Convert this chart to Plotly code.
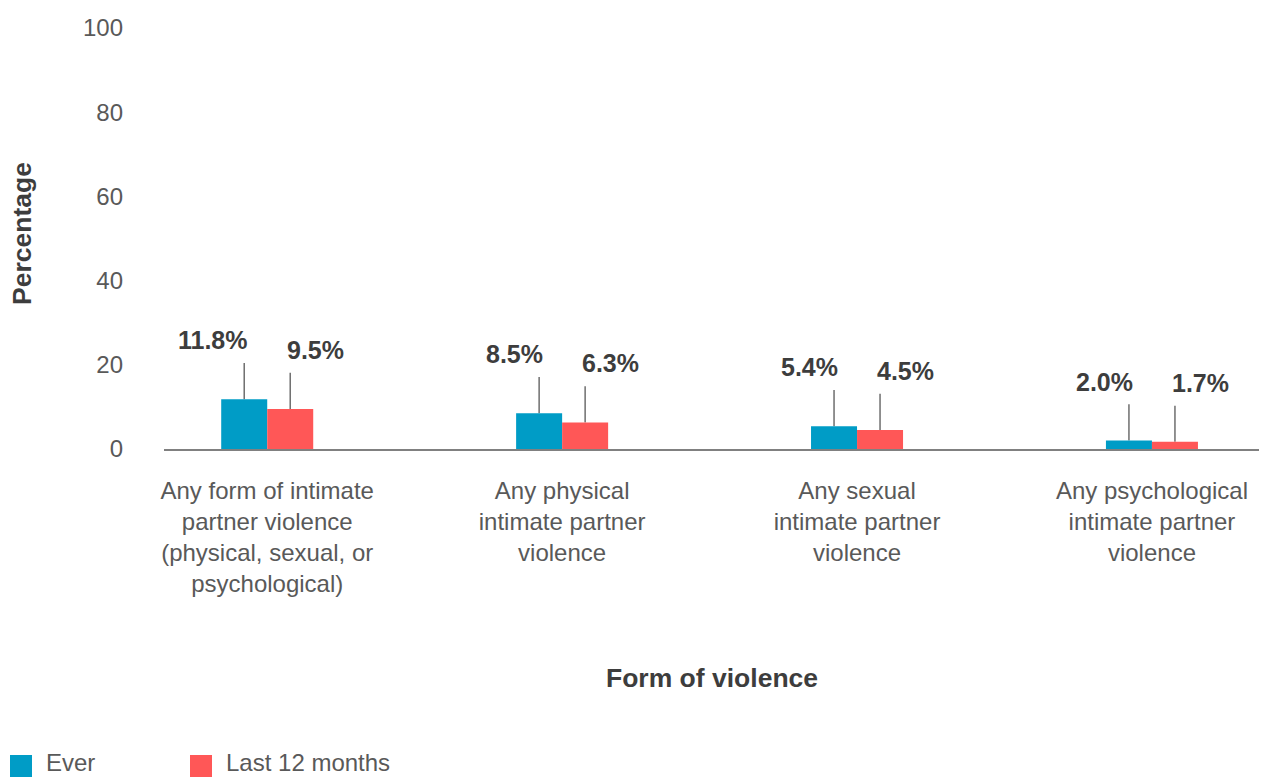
import plotly.graph_objects as go

# Data
categories = [
    "Any form of intimate partner violence (physical, sexual, or psychological)",
    "Any physical intimate partner violence",
    "Any sexual intimate partner violence",
    "Any psychological intimate partner violence",
]
tick_labels = [
    "Any form of intimate<br>partner violence<br>(physical, sexual, or<br>psychological)",
    "Any physical<br>intimate partner<br>violence",
    "Any sexual<br>intimate partner<br>violence",
    "Any psychological<br>intimate partner<br>violence",
]
ever = [11.8, 8.5, 5.4, 2.0]
last_12_months = [9.5, 6.3, 4.5, 1.7]
series_names = ["Ever", "Last 12 months"]
y_ticks = [0, 20, 40, 60, 80, 100]

# Style
FONT = "Liberation Sans, Arial, Helvetica, sans-serif"
TEAL = "#009cc6"
CORAL = "#ff5757"
TICK_GREY = "#595959"
DARK = "#3d3d3d"

W, H = 1262, 777
M_L, M_R, M_T, M_B = 164, 3, 28, 328
PLOT_W = W - M_L - M_R
PLOT_H = H - M_T - M_B

BARGAP = 0.688
HALF_OFFSET = (1 - BARGAP) / 4  # centre offset of each bar in a pair


def paper_x(px):
    return (px - M_L) / PLOT_W


def paper_y(py):
    return (H - M_B - py) / PLOT_H


fig = go.Figure()
fig.add_trace(go.Bar(x=categories, y=ever, name=series_names[0],
                     marker=dict(color=TEAL, line=dict(width=0)),
                     showlegend=False))
fig.add_trace(go.Bar(x=categories, y=last_12_months, name=series_names[1],
                     marker=dict(color=CORAL, line=dict(width=0)),
                     showlegend=False))

shapes = []
annotations = []
LEADER = 8.6  # leader line length in data units

for i, cat in enumerate(categories):
    for val, sign, anchor, shift in ((ever[i], -1, "right", -17),
                                     (last_12_months[i], 1, "left", 18)):
        xpos = i + sign * HALF_OFFSET
        shapes.append(dict(type="line", xref="x", yref="y",
                           x0=xpos, x1=xpos, y0=val, y1=val + LEADER,
                           line=dict(color="#6e6e6e", width=1.5),
                           layer="below"))
        annotations.append(dict(x=cat, y=val, xref="x", yref="y",
                                text=f"<b>{val:.1f}%</b>", showarrow=False,
                                xanchor=anchor, yanchor="middle",
                                xshift=shift, yshift=59,
                                font=dict(family=FONT, size=25, color=DARK)))

# Axis titles
annotations.append(dict(text="<b>Form of violence</b>", xref="paper", yref="paper",
                        x=0.5, y=paper_y(678), xanchor="center", yanchor="middle",
                        showarrow=False,
                        font=dict(family=FONT, size=26.5, color=DARK)))
annotations.append(dict(text="<b>Percentage</b>", xref="paper", yref="paper",
                        x=paper_x(22), y=paper_y(234), xanchor="center",
                        yanchor="middle", textangle=-90, showarrow=False,
                        font=dict(family=FONT, size=26.5, color=DARK)))

# Legend keys
legend_items = [(series_names[0], TEAL, 10), (series_names[1], CORAL, 190)]
for name, color, left in legend_items:
    shapes.append(dict(type="rect", xref="paper", yref="paper",
                       x0=paper_x(left), x1=paper_x(left + 22),
                       y0=paper_y(777), y1=paper_y(755),
                       fillcolor=color, line=dict(width=0)))
    annotations.append(dict(text=name, xref="paper", yref="paper",
                            x=paper_x(left + 34), y=paper_y(762),
                            xanchor="left", yanchor="middle", showarrow=False,
                            font=dict(family=FONT, size=24, color=TICK_GREY)))

fig.update_layout(
    width=W, height=H, autosize=False,
    margin=dict(l=M_L, r=M_R, t=M_T, b=M_B, pad=0),
    paper_bgcolor="white", plot_bgcolor="white",
    barmode="group", bargap=BARGAP, bargroupgap=0,
    font=dict(family=FONT, size=24, color=TICK_GREY),
    shapes=shapes, annotations=annotations,
    showlegend=False,
)
fig.update_xaxes(
    type="category", range=[-0.35, 3.363],
    tickmode="array", tickvals=categories, ticktext=tick_labels,
    showline=True, linecolor="#808080", linewidth=2,
    showgrid=False, zeroline=False, ticks="",
    tickfont=dict(family=FONT, size=24, color=TICK_GREY),
    ticklabelstandoff=19,
)
fig.update_yaxes(
    range=[0, 100], tickmode="array", tickvals=y_ticks,
    showline=False, showgrid=False, zeroline=False, ticks="",
    tickfont=dict(family=FONT, size=24, color=TICK_GREY),
    ticklabelstandoff=40,
)

fig.write_html("out.html")
